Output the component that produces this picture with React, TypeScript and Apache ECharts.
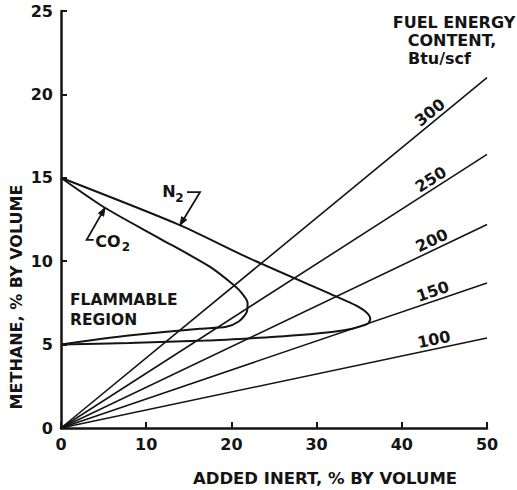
import React, { useEffect, useRef } from "react";
import * as echarts from "echarts";

// ---- data ----
const xTickValues = [0, 10, 20, 30, 40, 50];
const yTickValues = [0, 5, 10, 15, 20, 25];

// fuel energy content lines (Btu/scf), straight from origin to x = 50
const energyLabels = ["300", "250", "200", "150", "100"];
const energyStartInert = 0;
const energyStartMethane = 0;
const energyEndInert = 50;
const energyEndMethane = [21.0, 16.4, 12.2, 8.7, 5.4];

// flammability envelope with CO2 as the added inert
const co2Inert = [0, 5, 11.6, 17.5, 20.2, 21.2, 21.9, 21.8, 20.9, 19.4, 16.3, 8.5, 4.6, 0];
const co2Methane = [15, 13.25, 11.36, 9.66, 8.6, 8.1, 7.5, 6.95, 6.4, 6.07, 5.95, 5.57, 5.33, 5.0];

// flammability envelope with N2 as the added inert
const n2Inert = [0, 14, 22.2, 32.4, 34.6, 35.8, 36.3, 36.0, 34.3, 32, 28, 24, 17, 8, 0];
const n2Methane = [15, 12.15, 10.15, 7.86, 7.35, 6.95, 6.55, 6.25, 5.97, 5.77, 5.57, 5.43, 5.24, 5.1, 5.0];

// annotation anchors (points on the curves where the arrows touch)
const n2ArrowTip = [13.97, 12.16];
const co2ArrowTip = [5.16, 13.2];
const energyLabelInert = 44;

const INK = "#141414";
const FONT = "DejaVu Sans";

function zip(a: number[], b: number[]) {
  return a.map((v, i) => [v, b[i]]);
}

export default function App() {
  const ref = useRef<HTMLDivElement>(null);

  useEffect(() => {
    if (!ref.current) return;
    const chart = echarts.init(ref.current, undefined, { renderer: "svg" });

    const energySeries = energyEndMethane.map((end, i) => ({
      name: energyLabels[i],
      type: "line",
      data: [
        [energyStartInert, energyStartMethane],
        [energyEndInert, end],
      ],
      showSymbol: false,
      symbol: "none",
      lineStyle: { color: INK, width: 1.6 },
      silent: true,
    }));

    const axisLabel = (ticks: number[]) => ({
      margin: 8,
      fontSize: 16,
      fontWeight: "bold",
      color: INK,
      fontFamily: FONT,
      formatter: (v: number) => (ticks.includes(v) ? String(v) : ""),
    });

    const option: any = {
      animation: false,
      backgroundColor: "#ffffff",
      textStyle: { fontFamily: FONT },
      grid: { left: 61, right: 30, top: 11, bottom: 62 },
      xAxis: {
        type: "value",
        min: 0,
        max: 50,
        interval: 10,
        axisLine: { show: true, onZero: false, lineStyle: { color: INK, width: 2.5 } },
        axisTick: { show: true, inside: true, length: 6, lineStyle: { color: INK, width: 2 } },
        axisLabel: axisLabel(xTickValues),
        splitLine: { show: false },
      },
      yAxis: {
        type: "value",
        min: 0,
        max: 25,
        interval: 5,
        axisLine: { show: true, onZero: false, lineStyle: { color: INK, width: 2.5 } },
        axisTick: { show: true, inside: true, length: 6, lineStyle: { color: INK, width: 2 } },
        axisLabel: axisLabel(yTickValues),
        splitLine: { show: false },
      },
      series: [
        ...energySeries,
        {
          name: "CO2",
          type: "line",
          data: zip(co2Inert, co2Methane),
          showSymbol: false,
          symbol: "none",
          smooth: 0.25,
          lineStyle: { color: INK, width: 2 },
        },
        {
          name: "N2",
          type: "line",
          data: zip(n2Inert, n2Methane),
          showSymbol: false,
          symbol: "none",
          smooth: 0.25,
          lineStyle: { color: INK, width: 2 },
        },
      ],
    };
    chart.setOption(option);

    const toPx = (x: number, y: number) =>
      chart.convertToPixel({ xAxisIndex: 0, yAxisIndex: 0 }, [x, y]) as number[];

    const txt = (
      text: string,
      x: number,
      y: number,
      size: number,
      align: string = "center",
      rotation = 0
    ) => ({
      type: "text",
      x,
      y,
      rotation,
      silent: true,
      style: {
        text,
        fill: INK,
        font: `bold ${size}px "${FONT}"`,
        fontSize: size,
        fontWeight: "bold",
        fontFamily: FONT,
        align,
        verticalAlign: "middle",
        textAlign: align,
        textVerticalAlign: "middle",
      },
    });

    const arrowHead = (from: number[], tip: number[], len = 8, half = 3) => {
      const dx = tip[0] - from[0];
      const dy = tip[1] - from[1];
      const d = Math.hypot(dx, dy);
      const ux = dx / d;
      const uy = dy / d;
      const bx = tip[0] - ux * len;
      const by = tip[1] - uy * len;
      return {
        type: "polygon",
        silent: true,
        shape: {
          points: [
            [tip[0], tip[1]],
            [bx - uy * half, by + ux * half],
            [bx + uy * half, by - ux * half],
          ],
        },
        style: { fill: INK, stroke: INK, lineWidth: 1 },
      };
    };

    const graphics: any[] = [];

    // energy content line labels
    const o = toPx(0, 0);
    energyEndMethane.forEach((end, i) => {
      const p1 = toPx(energyEndInert, end);
      const theta = Math.atan2(o[1] - p1[1], p1[0] - o[0]);
      const p = toPx(energyLabelInert, (end * energyLabelInert) / energyEndInert);
      const off = 9.5;
      graphics.push(
        txt(energyLabels[i], p[0] - off * Math.sin(theta), p[1] - off * Math.cos(theta), 16, "center", theta)
      );
    });

    // N2 annotation
    const nt = toPx(n2ArrowTip[0], n2ArrowTip[1]);
    const nCorner = [nt[0] + 20, nt[1] - 33];
    graphics.push({
      type: "polyline",
      silent: true,
      shape: { points: [[nt[0] + 7, nCorner[1]], nCorner, nt] },
      style: { stroke: INK, lineWidth: 1.8, fill: null },
    });
    graphics.push(arrowHead(nCorner, nt));
    graphics.push(txt("N", nt[0] - 11, nt[1] - 34, 16));
    graphics.push(txt("2", nt[0] - 0.5, nt[1] - 27, 12));

    // CO2 annotation
    const ct = toPx(co2ArrowTip[0], co2ArrowTip[1]);
    const cCorner = [ct[0] - 18.3, ct[1] + 32];
    graphics.push({
      type: "polyline",
      silent: true,
      shape: { points: [[cCorner[0] + 7, cCorner[1]], cCorner, ct] },
      style: { stroke: INK, lineWidth: 1.8, fill: null },
    });
    graphics.push(arrowHead(cCorner, ct));
    graphics.push(txt("CO", ct[0] + 3, ct[1] + 34, 16));
    graphics.push(txt("2", ct[0] + 21, ct[1] + 39.5, 12));

    // region label
    graphics.push(txt("FLAMMABLE", 70, 300, 15.5, "left"));
    graphics.push(txt("REGION", 70, 320, 15.5, "left"));

    // legend title for the energy lines
    graphics.push(txt("FUEL ENERGY", 454, 22.5, 16));
    graphics.push(txt("CONTENT,", 452, 40, 16));
    graphics.push(txt("Btu/scf", 408, 58, 16, "left"));

    // axis titles
    graphics.push(txt("ADDED INERT, % BY VOLUME", 325, 478, 16.5));
    graphics.push(txt("METHANE, % BY VOLUME", 16, 297, 16, "center", Math.PI / 2));

    chart.setOption({ graphic: graphics });

    return () => chart.dispose();
  }, []);

  return (
    <div
      ref={ref}
      style={{ position: "absolute", left: 0, top: 0, width: 517, height: 490, background: "#fff" }}
    />
  );
}
